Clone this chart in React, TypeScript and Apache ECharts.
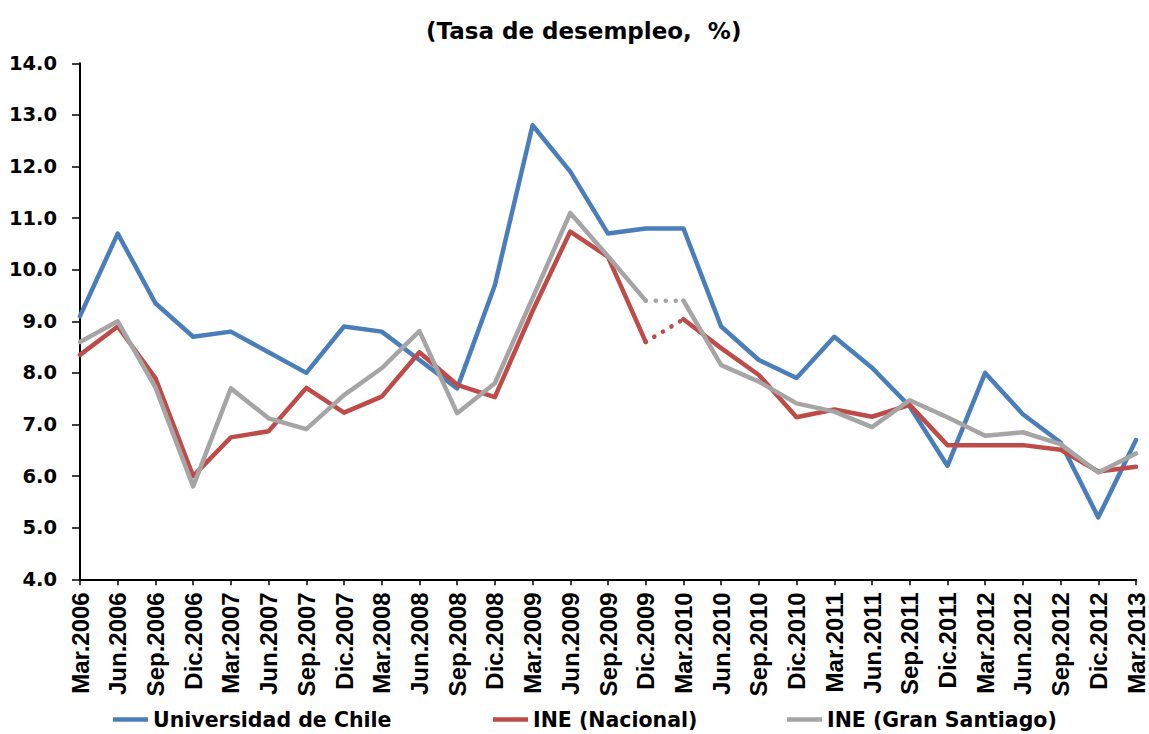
import React, { useEffect, useRef } from "react";
import * as echarts from "echarts";

const categories = [
  "Mar.2006", "Jun.2006", "Sep.2006", "Dic.2006",
  "Mar.2007", "Jun.2007", "Sep.2007", "Dic.2007",
  "Mar.2008", "Jun.2008", "Sep.2008", "Dic.2008",
  "Mar.2009", "Jun.2009", "Sep.2009", "Dic.2009",
  "Mar.2010", "Jun.2010", "Sep.2010", "Dic.2010",
  "Mar.2011", "Jun.2011", "Sep.2011", "Dic.2011",
  "Mar.2012", "Jun.2012", "Sep.2012", "Dic.2012",
  "Mar.2013",
];

const uchile = [
  9.1, 10.7, 9.35, 8.7, 8.8, 8.4, 8.0, 8.9, 8.8, 8.25, 7.7, 9.7, 12.8, 11.9, 10.7,
  10.8, 10.8, 8.9, 8.25, 7.9, 8.7, 8.1, 7.35, 6.2, 8.0, 7.2, 6.65, 5.2, 6.7,
];

const ineNacional = [
  8.35, 8.9, 7.9, 6.0, 6.75, 6.87, 7.71, 7.23, 7.54, 8.4, 7.77, 7.53, 9.2, 10.74,
  10.25, 8.6, 9.04, 8.48, 7.96, 7.14, 7.29, 7.15, 7.38, 6.6, 6.6, 6.6, 6.51, 6.09, 6.18,
];

const ineSantiago = [
  8.6, 9.0, 7.72, 5.8, 7.7, 7.12, 6.91, 7.57, 8.09, 8.81, 7.22, 7.8, 9.45, 11.1,
  10.26, 9.4, 9.4, 8.15, 7.83, 7.41, 7.25, 6.95, 7.47, 7.14, 6.78, 6.85, 6.62, 6.07, 6.44,
];

// INE series change methodology between these two quarters (dotted link)
const breakAfter = "Dic.2009";

const seriesNames = ["Universidad de Chile", "INE (Nacional)", "INE (Gran Santiago)"];
const seriesColors = ["#4A7EBB", "#BE4B48", "#A5A5A5"];

const titleText = "(Tasa de desempleo,  %)";
const yMin = 4;
const yMax = 14;
const yStep = 1;

export default function App() {
  const ref = useRef<HTMLDivElement>(null);

  useEffect(() => {
    if (!ref.current) return;
    const chart = echarts.init(ref.current, null, { renderer: "svg" });
    const b = categories.indexOf(breakAfter);
    const before = (arr: number[]) => arr.map((v, i) => (i <= b ? v : null));
    const after = (arr: number[]) => arr.map((v, i) => (i >= b + 1 ? v : null));
    const bridge = (arr: number[]) => arr.map((v, i) => (i === b || i === b + 1 ? v : null));

    const solid = (name: string, color: string, data: (number | null)[]) => ({
      name,
      type: "line",
      data,
      color,
      symbol: "none",
      showSymbol: false,
      connectNulls: false,
      silent: true,
      lineStyle: { width: 4.5, color, cap: "round", join: "round" },
    });
    const dotted = (name: string, color: string, data: (number | null)[]) => ({
      name,
      type: "line",
      data,
      color,
      symbol: "none",
      showSymbol: false,
      connectNulls: false,
      silent: true,
      lineStyle: { width: 4.5, color, type: [0.1, 9.9], cap: "round" },
    });

    const legendLefts = [113, 493, 787];

    chart.setOption({
      animation: false,
      backgroundColor: "#ffffff",
      title: {
        text: titleText,
        left: 421,
        top: 14,
        textStyle: {
          fontFamily: "DejaVu Sans",
          fontWeight: "bold",
          fontSize: 23,
          color: "#000",
        },
      },
      legend: seriesNames.map((n, i) => ({
        data: [n],
        left: legendLefts[i],
        top: 709,
        padding: 0,
        icon: "rect",
        itemWidth: 35,
        itemHeight: 4.5,
        selectedMode: false,
        textStyle: {
          fontFamily: "DejaVu Sans",
          fontWeight: "bold",
          fontSize: 20.5,
          color: "#000",
        },
      })),
      grid: { left: 80, right: 13, top: 63.3, bottom: 154.7, containLabel: false },
      xAxis: {
        type: "category",
        data: categories,
        boundaryGap: false,
        axisLine: { show: true, lineStyle: { color: "#000", width: 2 } },
        axisTick: { show: true, interval: 0, length: 6, lineStyle: { color: "#000", width: 1.5 } },
        axisLabel: {
          interval: 0,
          rotate: 90,
          margin: 13,
          fontFamily: "Liberation Sans",
          fontWeight: "bold",
          fontSize: 24,
          color: "#000",
        },
        splitLine: { show: false },
      },
      yAxis: {
        type: "value",
        min: yMin,
        max: yMax,
        interval: yStep,
        axisLine: { show: true, lineStyle: { color: "#000", width: 2 } },
        axisTick: { show: true, length: 8, lineStyle: { color: "#000", width: 1.5 } },
        axisLabel: {
          margin: 23,
          formatter: (v: number) => v.toFixed(1),
          fontFamily: "DejaVu Sans",
          fontWeight: "bold",
          fontSize: 19.5,
          color: "#000",
        },
        splitLine: { show: false },
      },
      series: [
        solid(seriesNames[0], seriesColors[0], uchile),
        solid(seriesNames[1], seriesColors[1], before(ineNacional)),
        solid(seriesNames[1], seriesColors[1], after(ineNacional)),
        dotted(seriesNames[1] + " (empalme)", seriesColors[1], bridge(ineNacional)),
        solid(seriesNames[2], seriesColors[2], before(ineSantiago)),
        solid(seriesNames[2], seriesColors[2], after(ineSantiago)),
        dotted(seriesNames[2] + " (empalme)", seriesColors[2], bridge(ineSantiago)),
      ],
    });

    return () => chart.dispose();
  }, []);

  return (
    <div
      ref={ref}
      style={{ position: "fixed", left: 0, top: 0, width: 1149, height: 734, background: "#fff" }}
    />
  );
}
